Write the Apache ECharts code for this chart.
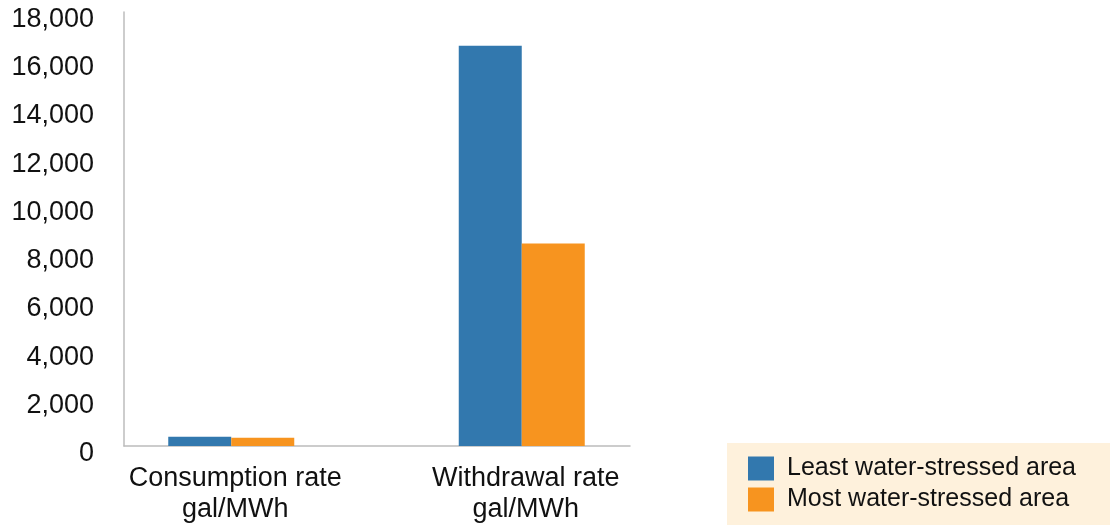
<!DOCTYPE html>
<html>
<head>
<meta charset="utf-8">
<script src="https://cdn.jsdelivr.net/npm/echarts@6/dist/echarts.min.js"></script>
<style>
  html, body { margin: 0; padding: 0; background: #ffffff; }
  #chart { width: 1117px; height: 525px; }
</style>
</head>
<body>
<div id="chart"></div>
<script>
// Water use rates per MWh, by area water stress
const categories = ['Consumption rate\ngal/MWh', 'Withdrawal rate\ngal/MWh'];
const leastStressed = [380, 16600];
const mostStressed = [340, 8400];
const seriesNames = ['Least water-stressed area', 'Most water-stressed area'];
const yTicks = { min: 0, max: 18000, interval: 2000 };

const FONT = '"Liberation Sans", Arial, sans-serif';
const AXIS_GREY = '#bcbcbc';

const chart = echarts.init(document.getElementById('chart'), null, { renderer: 'canvas' });

chart.setOption({
  animation: false,
  backgroundColor: '#ffffff',
  textStyle: { fontFamily: FONT },
  grid: [
    // frame grid: carries the visible axis lines and value labels
    { left: 124, right: 487, top: 12, bottom: 79 },
    // bar grid: places the category bands
    { left: 86, right: 450, top: 12, bottom: 79 }
  ],
  xAxis: [
    {
      gridIndex: 0, type: 'category', data: categories,
      axisLine: { show: true, lineStyle: { color: AXIS_GREY, width: 1.5 } },
      axisTick: { show: false }, axisLabel: { show: false }, splitLine: { show: false }
    },
    {
      gridIndex: 1, type: 'category', data: categories,
      axisLine: { show: false }, axisTick: { show: false },
      axisLabel: {
        margin: 17, fontSize: 27, lineHeight: 31, color: '#111111', fontFamily: FONT,
        padding: [0, 0, 0, 8]
      }
    }
  ],
  yAxis: [
    {
      gridIndex: 0, type: 'value', min: yTicks.min, max: yTicks.max, interval: yTicks.interval,
      axisLine: { show: true, lineStyle: { color: AXIS_GREY, width: 1.5 } },
      axisTick: { show: false }, splitLine: { show: false },
      axisLabel: {
        margin: 30, fontSize: 27, color: '#111111', fontFamily: FONT,
        verticalAlign: 'top', lineHeight: 15,
        formatter: v => v.toLocaleString('en-US')
      }
    },
    {
      gridIndex: 1, type: 'value', min: yTicks.min, max: yTicks.max, interval: yTicks.interval,
      show: false
    }
  ],
  legend: {
    orient: 'vertical', left: 748, top: 456, padding: 0,
    itemWidth: 26, itemHeight: 24, itemGap: 6, icon: 'rect',
    textStyle: { fontSize: 25, color: '#111111', fontFamily: FONT, padding: [0, 0, 0, 8] },
    data: seriesNames
  },
  graphic: [
    {
      type: 'rect', z: -1, silent: true,
      shape: { x: 727, y: 443, width: 383, height: 82 },
      style: { fill: '#fef1dc' }
    }
  ],
  series: [
    {
      name: seriesNames[0], type: 'bar', xAxisIndex: 1, yAxisIndex: 1,
      data: leastStressed, barWidth: 63, barGap: '0%',
      itemStyle: { color: '#3278ae' }
    },
    {
      name: seriesNames[1], type: 'bar', xAxisIndex: 1, yAxisIndex: 1,
      data: mostStressed, barWidth: 63, barGap: '0%',
      itemStyle: { color: '#f7941f' }
    }
  ]
});
</script>
</body>
</html>
